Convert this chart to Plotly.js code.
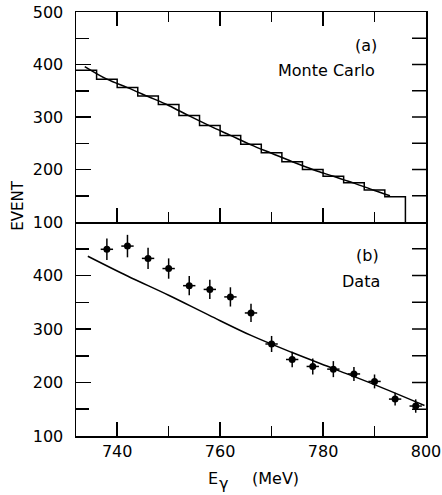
<!DOCTYPE html>
<html>
<head>
<meta charset="utf-8">
<script src="https://cdn.plot.ly/plotly-3.0.1.min.js"></script>
<style>html,body{margin:0;padding:0;background:#fff;overflow:hidden;}</style>
</head>
<body>
<div id="chart" style="width:442px;height:495px;"></div>
<script>
// ---- Data ----
// (a) Monte Carlo histogram: bin edges (MeV) and counts per 4-MeV bin
const mcBinEdges = [732, 736, 740, 744, 748, 752, 756, 760, 764, 768, 772, 776, 780, 784, 788, 792, 796];
const mcCounts   = [389, 372, 356, 340, 324, 303, 284, 265, 248, 232, 215, 200, 187, 175, 161, 148];
// (a) smooth fit curve
const mcFitX = [733.7, 738, 742, 746, 750, 754, 758, 762, 766, 770, 774, 778, 782, 786, 790, 793];
const mcFitY = [396, 372, 356, 339, 322, 302, 283, 265, 247, 231, 215, 200, 187, 174, 160, 150];
// (b) Data points
const dataX    = [738, 742, 746, 750, 754, 758, 762, 766, 770, 774, 778, 782, 786, 790, 794, 798];
const dataY    = [449, 455, 432, 413, 381, 374, 360, 330, 272, 243, 230, 225, 216, 202, 169, 156];
const dataErrY = [20, 21, 20, 19, 18, 18, 18, 17, 15, 14.5, 15, 15, 13, 13, 12, 12.5];
const dataErrX = [1.2, 1.2, 1.2, 1.2, 1.2, 1.2, 1.2, 1.2, 1.2, 1.2, 1.2, 1.2, 1.2, 1.2, 1.2, 1.2];
// (b) curve
const dataFitX = [734.3, 742, 750, 758, 766, 774, 782, 790, 799.7];
const dataFitY = [436, 399, 363, 325, 288, 256, 226, 196, 157];
// axes
const xRange = [732, 800];
const xTickVals = [740, 760, 780, 800];
const xMinorVals = [740, 750, 760, 770, 780, 790];
const yRange = [100, 500];
const topTickVals = [100, 200, 300, 400, 500];
const botTickVals = [100, 200, 300, 400];
const leftMinorVals = [150, 250, 350, 450];
const rightTickVals = [150, 200, 250, 300, 350, 400, 450];

// histogram as step line (closed down to baseline at right end)
const histX = mcBinEdges.slice();
const histY = mcCounts.concat([yRange[0]]);

const FONT = 'DejaVu Sans, Arial, sans-serif';
const LW = 1.5;
const ML = 76, MR = 16, MT = 12, MB = 59;
const PLOT_W = 442 - ML - MR;

const traces = [
  {x: histX, y: histY, xaxis: 'x2', yaxis: 'y2', type: 'scatter', mode: 'lines',
   line: {shape: 'hv', color: '#000', width: LW}, hoverinfo: 'skip'},
  {x: mcFitX, y: mcFitY, xaxis: 'x2', yaxis: 'y2', type: 'scatter', mode: 'lines',
   line: {shape: 'spline', color: '#000', width: LW}, hoverinfo: 'skip'},
  {x: dataFitX, y: dataFitY, xaxis: 'x', yaxis: 'y', type: 'scatter', mode: 'lines',
   line: {shape: 'spline', color: '#000', width: LW}, hoverinfo: 'skip'},
  {x: dataX, y: dataY, xaxis: 'x', yaxis: 'y', type: 'scatter', mode: 'markers',
   marker: {color: '#000', size: 7},
   error_y: {type: 'data', array: dataErrY, visible: true, color: '#000', thickness: LW, width: 0},
   error_x: {type: 'data', array: dataErrX, visible: true, color: '#000', thickness: LW, width: 0},
   hoverinfo: 'skip'}
];

const split = 0.5047;
const xCommon = {
  range: xRange, tickmode: 'array', tickvals: xTickVals,
  ticks: 'inside', ticklen: 14, tickwidth: LW, tickcolor: '#000',
  minor: {tickmode: 'array', tickvals: xMinorVals, ticks: 'inside', ticklen: 10, tickwidth: LW, tickcolor: '#000'},
  showline: true, linecolor: '#000', linewidth: LW,
  showgrid: false, zeroline: false, ticklabeloverflow: 'allow',
  tickfont: {family: FONT, size: 16, color: '#000'}
};
const yCommon = {
  range: yRange, tickmode: 'array',
  ticks: 'inside', ticklen: 15, tickwidth: LW, tickcolor: '#000',
  minor: {tickmode: 'array', tickvals: leftMinorVals, ticks: 'inside', ticklen: 13, tickwidth: LW, tickcolor: '#000'},
  showline: true, linecolor: '#000', linewidth: LW, mirror: true,
  showgrid: false, zeroline: false,
  tickfont: {family: FONT, size: 16, color: '#000'},
  ticklabelstandoff: 8
};

// right-side inward ticks (every 50) for both panels
const shapes = [];
['y', 'y2'].forEach(function (yr) {
  rightTickVals.forEach(function (v) {
    shapes.push({type: 'line', xref: 'paper', yref: yr, x0: 1, x1: 1 - 14 / PLOT_W, y0: v, y1: v,
                 layer: 'above', line: {color: '#000', width: LW}});
  });
});

const tf = {family: FONT, size: 16, color: '#000'};
const px2paperX = function (px) { return (px - ML) / PLOT_W; };
const layout = {
  width: 442, height: 495,
  margin: {l: ML, r: MR, t: MT, b: MB},
  paper_bgcolor: '#fff', plot_bgcolor: '#fff',
  showlegend: false,
  xaxis: Object.assign({}, xCommon, {anchor: 'y', domain: [0, 1]}),
  xaxis2: Object.assign({}, xCommon, {anchor: 'y2', domain: [0, 1], matches: 'x', showticklabels: false, mirror: 'ticks'}),
  yaxis: Object.assign({}, yCommon, {domain: [0, split], anchor: 'x', tickvals: botTickVals}),
  yaxis2: Object.assign({}, yCommon, {domain: [split, 1], anchor: 'x2', tickvals: topTickVals}),
  shapes: shapes,
  annotations: [
    {text: '(a)', xref: 'x2', yref: 'y2', x: 790.8, y: 436, xanchor: 'right', yanchor: 'middle', showarrow: false, font: tf},
    {text: 'Monte Carlo', xref: 'x2', yref: 'y2', x: 790.5, y: 388, xanchor: 'right', yanchor: 'middle', showarrow: false, font: tf},
    {text: '(b)', xref: 'x', yref: 'y', x: 791.2, y: 438, xanchor: 'right', yanchor: 'middle', showarrow: false, font: tf},
    {text: 'Data', xref: 'x', yref: 'y', x: 791.5, y: 388, xanchor: 'right', yanchor: 'middle', showarrow: false, font: tf},
    {text: 'EVENT', xref: 'paper', yref: 'paper', x: px2paperX(18), y: 0.543, textangle: -90, xanchor: 'center', yanchor: 'middle',
     showarrow: false, font: {family: FONT, size: 15, color: '#000'}},
    // x-axis title: E, gamma (lowered), (MeV)
    {text: 'E', xref: 'paper', yref: 'paper', x: px2paperX(206), y: -0.101, xanchor: 'left', yanchor: 'middle', showarrow: false, font: tf},
    {text: 'γ', xref: 'paper', yref: 'paper', x: px2paperX(217), y: -0.112, xanchor: 'left', yanchor: 'middle', showarrow: false, font: tf},
    {text: '(MeV)', xref: 'paper', yref: 'paper', x: px2paperX(250), y: -0.101, xanchor: 'left', yanchor: 'middle', showarrow: false, font: tf}
  ]
};

Plotly.newPlot('chart', traces, layout, {staticPlot: true, displayModeBar: false});
</script>
</body>
</html>
